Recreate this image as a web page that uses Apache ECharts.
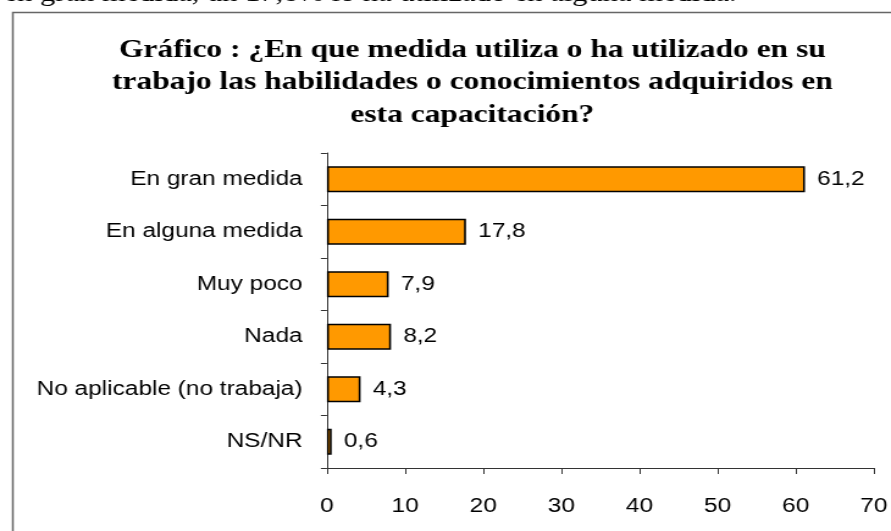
<!DOCTYPE html>
<html>
<head>
<meta charset="utf-8">
<script src="https://cdn.jsdelivr.net/npm/echarts@6/dist/echarts.min.js"></script>
<style>
  html, body { margin: 0; padding: 0; background: #ffffff; overflow: hidden; }
  /* the reference is stretched sideways, so the chart is drawn narrow and scaled */
  #wrap { width: 891px; height: 531px; overflow: hidden; }
  #chart { width: 730px; height: 531px; transform: scaleX(1.2205); transform-origin: 0 0; }
</style>
</head>
<body>
<div id="wrap"><div id="chart"></div></div>
<script>
const categories = [
  "En gran medida",
  "En alguna medida",
  "Muy poco",
  "Nada",
  "No aplicable (no trabaja)",
  "NS/NR"
];
const values = [61.2, 17.8, 7.9, 8.2, 4.3, 0.6];
const xTicks = [0, 10, 20, 30, 40, 50, 60, 70];

const titleText =
  "Gráfico : ¿En que medida utiliza o ha utilizado en su\n" +
  "trabajo las habilidades o conocimientos adquiridos en\n" +
  "esta capacitación?";
const topLine = "en gran medida, un 17,8% lo ha utilizado en alguna medida.";

const sans = "'Liberation Sans', Arial, sans-serif";
const serif = "'Liberation Serif', 'Times New Roman', serif";

const myChart = echarts.init(document.getElementById("chart"));
const option = {
  animation: false,
  title: {
    text: titleText,
    left: 382,
    top: 29,
    textAlign: "center",
    textStyle: {
      fontFamily: serif,
      fontWeight: "bold",
      fontSize: 25.8,
      lineHeight: 32.5,
      color: "#000000"
    }
  },
  graphic: [
    {
      type: "rect",
      left: 8,
      top: 10,
      shape: { width: 800, height: 600 },
      style: { fill: "none", stroke: "#666666", lineWidth: 1.5 },
      z: -1
    },
    {
      type: "text",
      x: 3,
      y: 7,
      style: {
        text: topLine,
        font: "25px " + serif,
        fill: "#000000",
        verticalAlign: "bottom"
      }
    }
  ],
  grid: {
    left: 267.9,
    right: 9.8,
    top: 153,
    bottom: 63
  },
  xAxis: {
    type: "value",
    min: xTicks[0],
    max: xTicks[xTicks.length - 1],
    interval: 10,
    splitLine: { show: false },
    axisLine: { show: true, lineStyle: { color: "#333333", width: 1 } },
    axisTick: { show: true, length: 6, lineStyle: { color: "#333333" } },
    axisLabel: {
      margin: 28,
      color: "#000000",
      fontFamily: sans,
      fontSize: 20
    }
  },
  yAxis: {
    type: "category",
    data: categories,
    inverse: true,
    axisLine: { show: true, lineStyle: { color: "#333333", width: 1 } },
    axisTick: { show: true, length: 5, lineStyle: { color: "#333333" } },
    axisLabel: {
      margin: 20,
      color: "#000000",
      fontFamily: sans,
      fontSize: 20
    }
  },
  series: [
    {
      type: "bar",
      data: values,
      barWidth: 26,
      itemStyle: {
        color: "#FF9900",
        borderColor: "#000000",
        borderWidth: 1.6
      },
      label: {
        show: true,
        position: "right",
        distance: 10,
        color: "#000000",
        fontFamily: sans,
        fontSize: 20,
        formatter: function (p) {
          return p.value.toFixed(1).replace(".", ",");
        }
      }
    }
  ]
};
myChart.setOption(option);
</script>
</body>
</html>
